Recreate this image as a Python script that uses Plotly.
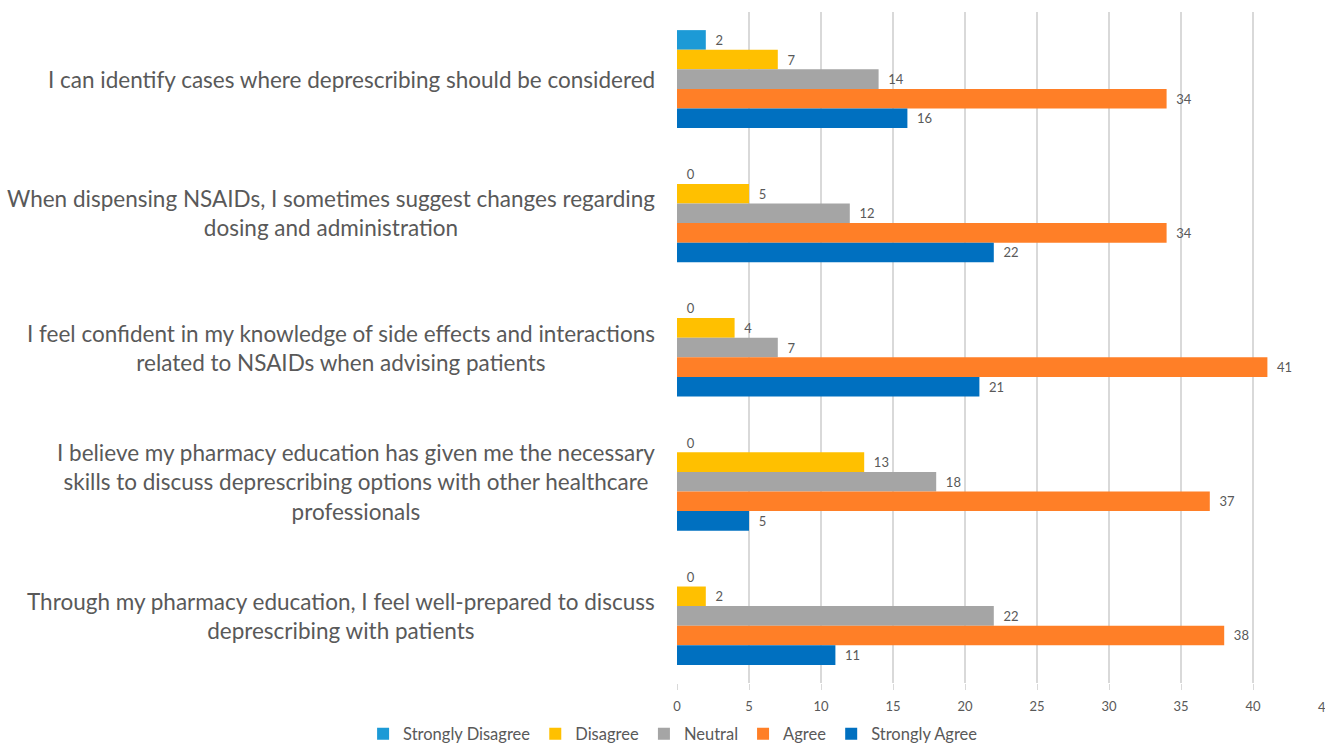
import plotly.graph_objects as go

categories = [
    "I can identify cases where deprescribing should be considered",
    "When dispensing NSAIDs, I sometimes suggest changes regarding<br>dosing and administration",
    "I feel confident in my knowledge of side effects and interactions<br>related to NSAIDs when advising patients",
    "I believe my pharmacy education has given me the necessary<br>skills to discuss deprescribing options with other healthcare<br>professionals",
    "Through my pharmacy education, I feel well-prepared to discuss<br>deprescribing with patients",
]
series_names = ["Strongly Disagree", "Disagree", "Neutral", "Agree", "Strongly Agree"]
strongly_disagree = [2, 0, 0, 0, 0]
disagree = [7, 5, 4, 13, 2]
neutral = [14, 12, 7, 18, 22]
agree = [34, 34, 41, 37, 38]
strongly_agree = [16, 22, 21, 5, 11]
values = [strongly_disagree, disagree, neutral, agree, strongly_agree]
colors = ["#1C9AD6", "#FFC000", "#A5A5A5", "#FF7F27", "#0070C0"]
x_ticks = [0, 5, 10, 15, 20, 25, 30, 35, 40]
x_max = 45

FONT = "Lato, Open Sans, sans-serif"
GRAY = "#595959"

fig = go.Figure()
for name, vals, col in zip(series_names, values, colors):
    fig.add_trace(go.Bar(
        y=categories, x=vals, name=name, orientation="h",
        marker=dict(color=col, line=dict(width=0)),
        texttemplate="  %{x}", textposition="outside",
        textfont=dict(size=13, color=GRAY, family=FONT),
        cliponaxis=False,
    ))

for c in categories:
    fig.add_annotation(
        x=0, xref="paper", y=c, yref="y", text=c, showarrow=False,
        xanchor="right", xshift=-20, align="center",
        font=dict(size=22.5, color=GRAY, family=FONT),
    )

# last tick label, cropped at the right edge as in the reference
fig.add_annotation(
    x=1.0, xref="paper", y=0, yref="paper", yshift=-24, text=str(x_max),
    showarrow=False, xanchor="center", yanchor="middle",
    font=dict(size=13, color=GRAY, family=FONT),
)

fig.update_layout(
    width=1325, height=744,
    margin=dict(l=677, r=0, t=12, b=61, autoexpand=False),
    barmode="group", bargap=0.27, bargroupgap=0,
    plot_bgcolor="white", paper_bgcolor="white",
    font=dict(family=FONT, color=GRAY),
    legend=dict(orientation="h", xref="container", x=0.508, xanchor="center",
                yref="paper", y=-0.076, yanchor="middle",
                font=dict(size=16.5, color=GRAY, family=FONT),
                itemwidth=30, traceorder="normal"),
    xaxis=dict(range=[0, x_max], tickvals=x_ticks, showgrid=True, gridcolor="#D9D9D9",
               gridwidth=1.5, zeroline=False, showline=False,
               ticks="outside", ticklen=6, tickcolor="#D9D9D9",
               tickfont=dict(size=13, color=GRAY, family=FONT), ticklabelstandoff=5),
    yaxis=dict(autorange="reversed", showticklabels=False, showgrid=False,
               zeroline=False, showline=False),
)

fig.write_html("out.html")
